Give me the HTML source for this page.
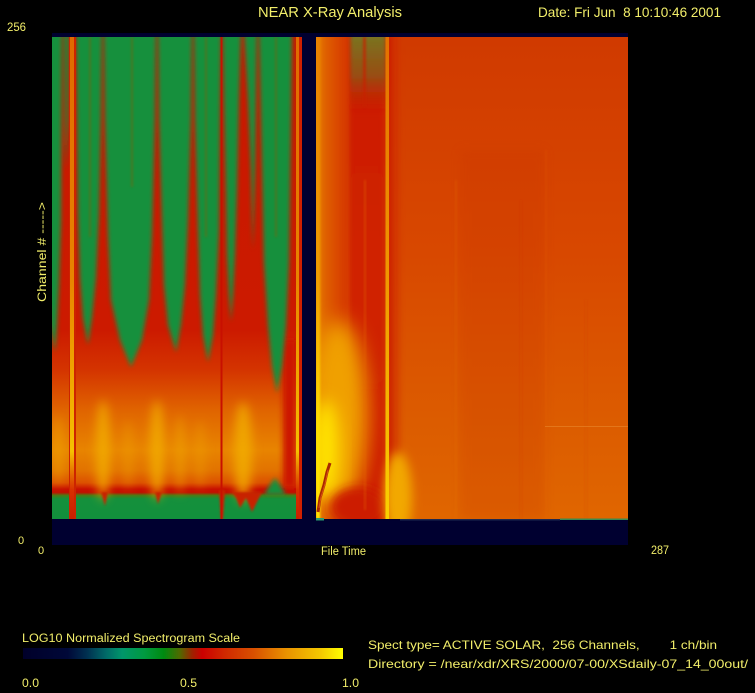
<!DOCTYPE html>
<html><head><meta charset="utf-8"><style>
html,body{margin:0;padding:0;background:#000;}
svg{display:block;}
text{font-family:"Liberation Sans",sans-serif;fill:#f2ee6a;}
</style></head><body>
<svg width="755" height="693" viewBox="0 0 755 693" xmlns="http://www.w3.org/2000/svg">
<defs>
<clipPath id="cL"><rect x="52" y="37" width="250" height="482"/></clipPath>
<clipPath id="cR"><rect x="316" y="37" width="312" height="482"/></clipPath>
<filter id="b1" x="-50%" y="-50%" width="200%" height="200%"><feGaussianBlur stdDeviation="1"/></filter>
<filter id="b2" x="-50%" y="-50%" width="200%" height="200%"><feGaussianBlur stdDeviation="2"/></filter>
<filter id="b3" x="-50%" y="-50%" width="200%" height="200%"><feGaussianBlur stdDeviation="3"/></filter>
<filter id="b5" x="-50%" y="-50%" width="200%" height="200%"><feGaussianBlur stdDeviation="5"/></filter>
<filter id="b8" x="-50%" y="-50%" width="200%" height="200%"><feGaussianBlur stdDeviation="8"/></filter>
<filter id="b10" x="-50%" y="-50%" width="200%" height="200%"><feGaussianBlur stdDeviation="10"/></filter>
<linearGradient id="lowL" x1="0" y1="37" x2="0" y2="519" gradientUnits="userSpaceOnUse">
<stop offset="0" stop-color="#c81800"/>
<stop offset="0.608" stop-color="#cc1a00"/>
<stop offset="0.691" stop-color="#d43400"/>
<stop offset="0.774" stop-color="#e06400"/>
<stop offset="0.857" stop-color="#e88400"/>
<stop offset="0.900" stop-color="#e27200"/>
<stop offset="0.925" stop-color="#dc5000"/>
<stop offset="0.938" stop-color="#c81000"/>
<stop offset="0.945" stop-color="#c01000"/>
<stop offset="0.951" stop-color="#4a7c14"/>
<stop offset="0.958" stop-color="#14903c"/>
<stop offset="1" stop-color="#12903c"/>
</linearGradient>
<linearGradient id="lineL" x1="0" y1="37" x2="0" y2="519" gradientUnits="userSpaceOnUse">
<stop offset="0" stop-color="#e06a00"/>
<stop offset="0.5" stop-color="#e88400"/>
<stop offset="0.86" stop-color="#f6c000"/>
<stop offset="0.94" stop-color="#d83000"/>
<stop offset="1" stop-color="#c82000"/>
</linearGradient>
<linearGradient id="rb" x1="0" y1="37" x2="0" y2="519" gradientUnits="userSpaceOnUse">
<stop offset="0" stop-color="#d03a00"/>
<stop offset="0.45" stop-color="#d84800"/>
<stop offset="0.8" stop-color="#dc5c00"/>
<stop offset="1" stop-color="#e06600"/>
</linearGradient>
<linearGradient id="olive" x1="0" y1="37" x2="0" y2="115" gradientUnits="userSpaceOnUse">
<stop offset="0" stop-color="#7a7420" stop-opacity="1"/>
<stop offset="0.5" stop-color="#8a5a18" stop-opacity="0.8"/>
<stop offset="1" stop-color="#cc1a00" stop-opacity="0"/>
</linearGradient>
<linearGradient id="lor" x1="316" y1="0" x2="346" y2="0" gradientUnits="userSpaceOnUse">
<stop offset="0" stop-color="#ec8c00"/>
<stop offset="0.25" stop-color="#e06400"/>
<stop offset="1" stop-color="#d63800"/>
</linearGradient>
<linearGradient id="redband" x1="0" y1="37" x2="0" y2="519" gradientUnits="userSpaceOnUse">
<stop offset="0" stop-color="#cc1a00"/>
<stop offset="0.5" stop-color="#d02400"/>
<stop offset="1" stop-color="#cc1a00"/>
</linearGradient>
<linearGradient id="edge" x1="0" y1="37" x2="0" y2="519" gradientUnits="userSpaceOnUse">
<stop offset="0" stop-color="#e88000"/>
<stop offset="0.5" stop-color="#f0a000"/>
<stop offset="0.8" stop-color="#ffe000"/>
<stop offset="1" stop-color="#ffe800"/>
</linearGradient>
<linearGradient id="yline" x1="0" y1="37" x2="0" y2="519" gradientUnits="userSpaceOnUse">
<stop offset="0" stop-color="#e47000"/>
<stop offset="0.5" stop-color="#f09800"/>
<stop offset="1" stop-color="#fad000"/>
</linearGradient>
<linearGradient id="rfade" x1="389" y1="0" x2="405" y2="0" gradientUnits="userSpaceOnUse">
<stop offset="0" stop-color="#cc1e00"/>
<stop offset="1" stop-color="#d43c00" stop-opacity="0"/>
</linearGradient>
<linearGradient id="cbar" x1="23" y1="0" x2="343" y2="0" gradientUnits="userSpaceOnUse">
<stop offset="0" stop-color="#00002a"/>
<stop offset="0.14" stop-color="#000838"/>
<stop offset="0.2" stop-color="#003050"/>
<stop offset="0.26" stop-color="#006a68"/>
<stop offset="0.31" stop-color="#00966a"/>
<stop offset="0.38" stop-color="#009a40"/>
<stop offset="0.44" stop-color="#008a10"/>
<stop offset="0.49" stop-color="#506a00"/>
<stop offset="0.53" stop-color="#a02000"/>
<stop offset="0.56" stop-color="#cc0000"/>
<stop offset="0.63" stop-color="#d02800"/>
<stop offset="0.72" stop-color="#d85000"/>
<stop offset="0.82" stop-color="#e89000"/>
<stop offset="0.93" stop-color="#f4c800"/>
<stop offset="1" stop-color="#ffff00"/>
</linearGradient>
</defs>

<rect x="0" y="0" width="755" height="693" fill="#000"/>
<rect x="52" y="33" width="576" height="512" fill="#000030"/>

<!-- LEFT PANEL -->
<g clip-path="url(#cL)">
<rect x="52" y="37" width="250" height="482" fill="url(#lowL)"/>
<g filter="url(#b5)">
<ellipse cx="103" cy="450" rx="7" ry="50" fill="#f2b000" opacity="0.8"/>
<ellipse cx="157" cy="450" rx="7" ry="50" fill="#f2b000" opacity="0.8"/>
<ellipse cx="243" cy="452" rx="9" ry="50" fill="#f2b000" opacity="0.8"/>
<ellipse cx="180" cy="455" rx="5" ry="40" fill="#f2b000" opacity="0.5"/>
<ellipse cx="128" cy="455" rx="5" ry="35" fill="#f0a800" opacity="0.4"/>
<ellipse cx="200" cy="455" rx="5" ry="35" fill="#f0a800" opacity="0.4"/>
<ellipse cx="58" cy="450" rx="5" ry="35" fill="#f2b000" opacity="0.5"/>
</g>
<rect x="283" y="340" width="13" height="148" fill="#cc1800" filter="url(#b3)"/>
<!-- green tongues -->
<g fill="#12903c" filter="url(#b2)">
<polygon points="40,30 62,30 61,222 59,285 57,325 55,352 50,325 48,285 40,222"/>
<polygon points="64,30 69,30 68,120 66,170 65,120"/>
<polygon points="76,30 102,30 101,120 99,215 96,278 92,318 88,345 83,318 80,278 78,215 77,120"/>
<polygon points="104,30 156,30 155,120 152,237 149,300 142,340 131,367 120,340 111,300 108,237 105,120"/>
<polygon points="158,30 192,30 191,120 188,222 185,285 181,325 176,352 168,325 164,285 162,222 159,120"/>
<polygon points="194,30 221,30 220,120 219,232 216,295 213,335 208,362 203,335 200,295 198,232 195,120"/>
<polygon points="223,30 241,30 239,100 237,192 235,255 233,295 231,322 229,295 227,255 226,192 224,100"/>
<polygon points="244,30 257,30 256,100 255,170 253,250 251,170 248,100"/>
<polygon points="259,30 292,30 291,120 289,263 286,326 282,366 277,393 272,366 268,326 264,263 261,120"/>
<polygon points="264,495 270,485 275,478 280,485 286,495"/>
</g>
<!-- faint olive streaks at top -->
<g fill="#6a6a18" opacity="0.6" filter="url(#b1)">
<rect x="89" y="37" width="2" height="200"/>
<rect x="131" y="37" width="2" height="150"/>
<rect x="205" y="37" width="2" height="200"/>
<rect x="275" y="37" width="2" height="200"/>
</g>
<g fill="#c82000" filter="url(#b1)">
<polygon points="101,492 108,492 105,506"/>
<polygon points="155,492 162,492 158,504"/>
<polygon points="219,490 225,490 223,519 221,519"/>
<polygon points="232,492 262,492 258,500 252,512 246,498 240,508 236,498"/>
</g>
<rect x="69" y="37" width="7" height="482" fill="#cc2400"/>
<rect x="70" y="37" width="4" height="482" fill="url(#lineL)"/>
<rect x="220.5" y="37" width="2" height="482" fill="#c81000"/>
<rect x="296" y="37" width="3" height="482" fill="url(#lineL)"/>
<rect x="299" y="37" width="3" height="482" fill="#d02000"/>
</g>

<!-- RIGHT PANEL -->
<g clip-path="url(#cR)">
<rect x="316" y="37" width="312" height="482" fill="url(#rb)"/>
<rect x="460" y="150" width="85" height="369" fill="#c83000" opacity="0.2" filter="url(#b5)"/>
<rect x="348" y="30" width="38" height="500" fill="url(#redband)" filter="url(#b3)"/>
<rect x="350" y="30" width="36" height="85" fill="url(#olive)" filter="url(#b2)"/>
<rect x="363" y="37" width="3" height="70" fill="#c82000" opacity="0.7" filter="url(#b1)"/>
<rect x="310" y="30" width="38" height="500" fill="url(#lor)" filter="url(#b2)"/>
<ellipse cx="338" cy="415" rx="30" ry="95" fill="#f0a000" filter="url(#b10)"/>
<ellipse cx="326" cy="450" rx="13" ry="50" fill="#ffe400" filter="url(#b8)"/>
<rect x="316" y="37" width="4" height="482" fill="url(#edge)" filter="url(#b1)"/>
<ellipse cx="358" cy="507" rx="28" ry="20" fill="#cc1a00" filter="url(#b5)"/>
<rect x="364" y="180" width="2" height="330" fill="#e87000" opacity="0.35" filter="url(#b1)"/>
<rect x="389" y="37" width="16" height="482" fill="url(#rfade)" filter="url(#b1)"/>
<ellipse cx="398" cy="497" rx="14" ry="45" fill="#f2a800" filter="url(#b5)"/>
<rect x="385.5" y="37" width="3.5" height="482" fill="url(#yline)"/>
<g filter="url(#b1)">
<rect x="455" y="180" width="2" height="339" fill="#e88000" opacity="0.18"/>
<rect x="520" y="200" width="2" height="319" fill="#c83000" opacity="0.15"/>
<rect x="545" y="150" width="2" height="369" fill="#e87000" opacity="0.15"/>
<rect x="585" y="300" width="2" height="219" fill="#c83000" opacity="0.12"/>
</g>
<line x1="545" y1="426.5" x2="628" y2="426.5" stroke="#ec8c30" stroke-width="1" opacity="0.55"/>
<polyline points="318,512 320,498 324,485 327,472 330,463" fill="none" stroke="#a82800" stroke-width="3"/>
<polyline points="319,508 321,497 325,484 328,470" fill="none" stroke="#d85010" stroke-width="1"/>
</g>
<rect x="316" y="518" width="8" height="2.5" fill="#2a9a70"/>
<rect x="400" y="519" width="160" height="1.5" fill="#2a3a60" opacity="0.7"/>
<rect x="560" y="518.5" width="68" height="1.5" fill="#3a8a50"/>

<!-- TEXT -->
<text x="258" y="17" font-size="14.5" textLength="144" lengthAdjust="spacingAndGlyphs">NEAR X-Ray Analysis</text>
<text x="538" y="17" font-size="14" textLength="183" lengthAdjust="spacingAndGlyphs" xml:space="preserve">Date: Fri Jun  8 10:10:46 2001</text>
<text x="7" y="31" font-size="12" textLength="19" lengthAdjust="spacingAndGlyphs">256</text>
<text x="18" y="544" font-size="11">0</text>
<text x="38" y="554" font-size="11">0</text>
<text x="321" y="555" font-size="11.5" textLength="45" lengthAdjust="spacingAndGlyphs">File Time</text>
<text x="651" y="554" font-size="11.5" textLength="18" lengthAdjust="spacingAndGlyphs">287</text>
<text transform="translate(46,302) rotate(-90)" font-size="11.5" textLength="100" lengthAdjust="spacingAndGlyphs">Channel # -----&gt;</text>

<text x="22" y="642" font-size="11.5" textLength="218" lengthAdjust="spacingAndGlyphs">LOG10 Normalized Spectrogram Scale</text>
<rect x="23" y="648" width="320" height="11" fill="url(#cbar)"/>
<text x="22" y="687" font-size="11.5" textLength="17" lengthAdjust="spacingAndGlyphs">0.0</text>
<text x="180" y="687" font-size="11.5" textLength="17" lengthAdjust="spacingAndGlyphs">0.5</text>
<text x="342" y="687" font-size="11.5" textLength="17" lengthAdjust="spacingAndGlyphs">1.0</text>
<text x="368" y="649" font-size="12" textLength="349" lengthAdjust="spacingAndGlyphs" xml:space="preserve">Spect type= ACTIVE SOLAR,  256 Channels,        1 ch/bin</text>
<text x="368" y="668" font-size="12" textLength="380" lengthAdjust="spacingAndGlyphs">Directory = /near/xdr/XRS/2000/07-00/XSdaily-07_14_00out/</text>
</svg>
</body></html>
